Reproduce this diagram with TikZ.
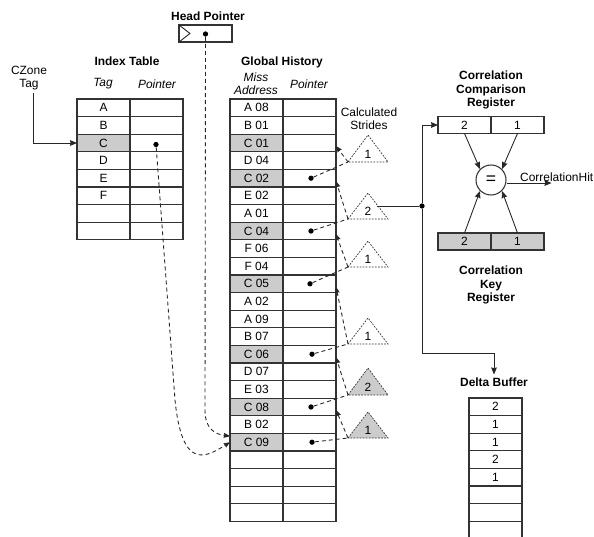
\documentclass[tikz,border=0pt]{standalone}
\usepackage{fontspec}
\setmainfont{Liberation Sans}
\usetikzlibrary{arrows.meta}

\newcommand{\figfont}{\fontsize{13.6}{15}\selectfont}

\tikzset{
  cell/.style={draw=black!80, line width=1.2pt, rectangle, minimum width=2.12cm,
    minimum height=0.704cm, inner sep=0pt, outer sep=0pt},
  hit/.style={cell, fill=gray!40},
  heading/.style={font=\figfont\bfseries, align=center},
  colhead/.style={font=\figfont\itshape, align=center},
  ptr/.style={circle, fill=black, inner sep=0pt, minimum size=6pt},
  wire/.style={line width=1pt, black!85},
  link/.style={line width=1pt, black!85, dash pattern=on 4.5pt off 3.5pt,
    >={Stealth[length=7pt,width=5.5pt,inset=0.5pt]}},
  stride/.style={draw=black!80, line width=0.8pt, dash pattern=on 2pt off 1.5pt},
}

\begin{document}
\begin{tikzpicture}[x=0.04cm, y=-0.04cm, font=\figfont,
  >={Stealth[length=8pt,width=6.5pt,inset=0.8pt]}]
\useasboundingbox (0,0) rectangle (594,537);

% --- Head pointer ---
\node[heading] (hptitle) at (208,16) {Head Pointer};
\node[cell, minimum height=0.68cm] (hp) at (205.5,33.5) {};
\draw[wire] (hp.north west) -- ++(11,8.5) -- (hp.south west);
\node[ptr] (kh) at (205.5,34) {};

% --- Index table ---
\node[heading] (ititle) at (127,61) {Index Table};
\node[colhead] (itag) at (103,84) {Tag};
\node[colhead] (iptr) at (157,84) {Pointer};
\node[align=center] (cz) at (29,78) {CZone\\Tag};

\node[cell] (t0) at (103.5,107.8) {A}; \node[cell] (p0) at (156.5,107.8) {};
\node[cell] (t1) at (103.5,125.4) {B}; \node[cell] (p1) at (156.5,125.4) {};
\node[hit]  (t2) at (103.5,143.0) {C}; \node[cell] (p2) at (156.5,143.0) {};
\node[cell] (t3) at (103.5,160.6) {D}; \node[cell] (p3) at (156.5,160.6) {};
\node[cell] (t4) at (103.5,178.2) {E}; \node[cell] (p4) at (156.5,178.2) {};
\node[cell] (t5) at (103.5,195.8) {F}; \node[cell] (p5) at (156.5,195.8) {};
\node[cell] (t6) at (103.5,213.4) {};  \node[cell] (p6) at (156.5,213.4) {};
\node[cell] (t7) at (103.5,231.0) {};  \node[cell] (p7) at (156.5,231.0) {};

\draw[wire,->] ([xshift=0.16cm]cz.south) |- (t2.west);
\node[ptr] (ki) at (156,144.5) {};

% --- Global history ---
\node[heading] (gtitle) at (282,62) {Global History};
\node[colhead] (gaddr) at (256,84) {Miss\\Address};
\node[colhead] (gptr) at (309,84) {Pointer};

\node[cell] (a0)  at (256.5,107.8) {A 08}; \node[cell] (q0)  at (309.5,107.8) {};
\node[cell] (a1)  at (256.5,125.4) {B 01}; \node[cell] (q1)  at (309.5,125.4) {};
\node[hit]  (a2)  at (256.5,143.0) {C 01}; \node[cell] (q2)  at (309.5,143.0) {};
\node[cell] (a3)  at (256.5,160.6) {D 04}; \node[cell] (q3)  at (309.5,160.6) {};
\node[hit]  (a4)  at (256.5,178.2) {C 02}; \node[cell] (q4)  at (309.5,178.2) {};
\node[cell] (a5)  at (256.5,195.8) {E 02}; \node[cell] (q5)  at (309.5,195.8) {};
\node[cell] (a6)  at (256.5,213.4) {A 01}; \node[cell] (q6)  at (309.5,213.4) {};
\node[hit]  (a7)  at (256.5,231.0) {C 04}; \node[cell] (q7)  at (309.5,231.0) {};
\node[cell] (a8)  at (256.5,248.6) {F 06}; \node[cell] (q8)  at (309.5,248.6) {};
\node[cell] (a9)  at (256.5,266.2) {F 04}; \node[cell] (q9)  at (309.5,266.2) {};
\node[hit]  (a10) at (256.5,283.8) {C 05}; \node[cell] (q10) at (309.5,283.8) {};
\node[cell] (a11) at (256.5,301.4) {A 02}; \node[cell] (q11) at (309.5,301.4) {};
\node[cell] (a12) at (256.5,319.0) {A 09}; \node[cell] (q12) at (309.5,319.0) {};
\node[cell] (a13) at (256.5,336.6) {B 07}; \node[cell] (q13) at (309.5,336.6) {};
\node[hit]  (a14) at (256.5,354.2) {C 06}; \node[cell] (q14) at (309.5,354.2) {};
\node[cell] (a15) at (256.5,371.8) {D 07}; \node[cell] (q15) at (309.5,371.8) {};
\node[cell] (a16) at (256.5,389.4) {E 03}; \node[cell] (q16) at (309.5,389.4) {};
\node[hit]  (a17) at (256.5,407.0) {C 08}; \node[cell] (q17) at (309.5,407.0) {};
\node[cell] (a18) at (256.5,424.6) {B 02}; \node[cell] (q18) at (309.5,424.6) {};
\node[hit]  (a19) at (256.5,442.2) {C 09}; \node[cell] (q19) at (309.5,442.2) {};
\node[cell] (a20) at (256.5,459.8) {};     \node[cell] (q20) at (309.5,459.8) {};
\node[cell] (a21) at (256.5,477.4) {};     \node[cell] (q21) at (309.5,477.4) {};
\node[cell] (a22) at (256.5,495.0) {};     \node[cell] (q22) at (309.5,495.0) {};
\node[cell] (a23) at (256.5,512.6) {};     \node[cell] (q23) at (309.5,512.6) {};

\node[ptr] (k4)  at (311,178.2) {};
\node[ptr] (k7)  at (311,231.0) {};
\node[ptr] (k10) at (310,283.8) {};
\node[ptr] (k14) at (312,354.2) {};
\node[ptr] (k17) at (311,407.0) {};
\node[ptr] (k19) at (312,442.2) {};

% pointers into the history
\draw[link,->] (kh) -- (205,410) .. controls (205,428) and (214,434) .. ([yshift=0.24cm]a19.west);
\draw[link,->] (ki) -- (175,400) .. controls (182,470) and (205,458) .. (a19.west);

% --- Calculated strides ---
\node[align=center] (cstr) at (369,119) {Calculated\\Strides};

\coordinate (s1) at (348,162);
\coordinate (s2) at (348,219);
\coordinate (s3) at (348,267);
\coordinate (s4) at (348,344);
\coordinate (s5) at (348,395);
\coordinate (s6) at (348,438);

\draw[stride] (s1) -- (368,135) -- (388,162) -- cycle;
\draw[stride] (s2) -- (368,193) -- (388,219) -- cycle;
\draw[stride] (s3) -- (368,241) -- (388,267) -- cycle;
\draw[stride] (s4) -- (368,318) -- (388,344) -- cycle;
\draw[stride, fill=gray!40] (s5) -- (368,368) -- (388,395) -- cycle;
\draw[stride, fill=gray!40] (s6) -- (368,412) -- (388,438) -- cycle;

\node (v1) at (368,154) {1};
\node (v2) at (368,211) {2};
\node (v3) at (368,259) {1};
\node (v4) at (368,336) {1};
\node (v5) at (368,387) {2};
\node (v6) at (368,430) {1};

\draw[link] (k4) -- (s1);   \draw[link,->] (s1) -- ([yshift=-0.12cm]q2.east);
\draw[link] (k7) -- (s2);   \draw[link,->] (s2) -- ([yshift=-0.12cm]q4.east);
\draw[link] (k10) -- (s3);  \draw[link,->] (s3) -- ([yshift=-0.12cm]q7.east);
\draw[link] (k14) -- (s4);  \draw[link,->] (s4) -- ([yshift=-0.12cm]q10.east);
\draw[link] (k17) -- (s5);  \draw[link,->] (s5) -- ([yshift=-0.12cm]q14.east);
\draw[link] (k19) -- (s6);  \draw[link,->] (s6) -- ([yshift=-0.12cm]q17.east);

% --- Correlation registers ---
\node[heading] (cctitle) at (491,90) {Correlation\\Comparison\\Register};
\node[cell, minimum height=0.68cm] (cc1) at (464.5,125) {2};
\node[cell, minimum height=0.68cm] (cc2) at (517.5,125) {1};

\node[circle, draw=black!80, line width=1.2pt, minimum size=1.2cm, inner sep=0pt,
  font=\fontsize{20}{20}\selectfont] (eq) at (491,180) {=};

\node[hit, minimum height=0.68cm] (kc1) at (464.5,241.5) {2};
\node[hit, minimum height=0.68cm] (kc2) at (517.5,241.5) {1};
\node[heading] (kctitle) at (491,285) {Correlation\\Key\\Register};

\draw[wire,->] (cc1.south) -- (eq.north west);
\draw[wire,->] (cc2.south) -- (eq.north east);
\draw[wire,->] (kc1.north) -- (eq.south west);
\draw[wire,->] (kc2.north) -- (eq.south east);

\draw[wire,->] ([yshift=-0.12cm]eq.east) -- ++(45,0) coordinate (hitend);
\node[anchor=base west, inner sep=0pt] (hit) at (520,181.5) {CorrelationHit};

% --- Stride bus ---
\coordinate (t2r) at (377,206);
\node[ptr] (jn) at (422,206) {};
\coordinate (bend) at (422,353);
\draw[wire] (t2r) -- (jn);
\draw[wire,->] (jn) |- (cc1.west);

% --- Delta buffer ---
\node[heading] (dtitle) at (494,382) {Delta Buffer};
\draw[wire,->] (jn) -- (bend) -| (dtitle.north);

\node[cell] (d0) at (495.5,406.8) {2};
\node[cell] (d1) at (495.5,424.4) {1};
\node[cell] (d2) at (495.5,442.0) {1};
\node[cell] (d3) at (495.5,459.6) {2};
\node[cell] (d4) at (495.5,477.2) {1};
\node[cell] (d5) at (495.5,494.8) {};
\node[cell] (d6) at (495.5,512.4) {};
\node[cell] (d7) at (495.5,530.0) {};

\end{tikzpicture}
\end{document}
